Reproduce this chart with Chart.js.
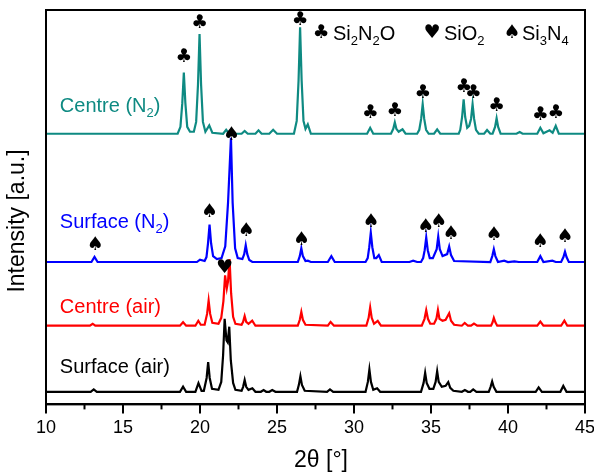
<!DOCTYPE html>
<html>
<head>
<meta charset="utf-8">
<script src="https://cdn.jsdelivr.net/npm/chart.js@4"></script>
<style>
  html, body { margin: 0; padding: 0; background: #fff; }
</style>
</head>
<body>
<canvas id="chart" width="594" height="472"></canvas>
<script>
// XRD patterns, [2theta, intensity above own baseline]
const surfaceAir = [
	[10,0],[12.9,0],[13.1,2.4],[13.3,0],[18.7,0],[18.9,5.2],[19.1,0],[19.7,0],[19.9,8.7],[20.1,1],
	[20.25,1],[20.43,14],[20.53,30],[20.63,14],[20.78,3],[21.2,2],[21.38,10],[21.5,37],[21.6,74],[21.72,52],
	[21.8,50],[21.9,66],[22.0,32],[22.15,9],[22.3,2],[22.7,1],[22.8,5],[22.9,12],[23.0,5],[23.15,2],
	[23.4,3.5],[23.6,0],[23.95,0],[24.13,1.7],[24.3,0],[24.5,0],[24.69,1.7],[24.9,0],[26.3,0],[26.42,7],
	[26.52,15.7],[26.62,7],[26.8,1],[28.25,0],[28.44,2.4],[28.65,0],[30.75,0],[30.9,10],[31.0,22.7],[31.1,10],
	[31.25,2],[31.5,3.5],[31.7,0],[34.35,0],[34.52,9],[34.62,19.2],[34.72,9],[34.9,3],[35.15,3],[35.3,10],
	[35.4,20.9],[35.5,10],[35.7,5],[35.95,6],[36.12,9.8],[36.25,4],[36.45,1],[37.0,0],[37.2,1.7],[37.4,0],
	[37.55,0],[37.74,2.4],[37.95,0],[38.75,0],[38.87,5],[38.97,10.5],[39.07,5],[39.25,0],[41.8,0],[41.99,4.5],
	[42.2,0],[43.4,0],[43.59,5.9],[43.8,0],[45,0],
];
const centreAir = [
	[10,0],[12.85,0],[13.03,2],[13.2,0],[18.7,0],[18.9,3.5],[19.1,0],[19.7,0],[19.89,5],[20.05,1],
	[20.3,1],[20.46,12],[20.56,25.5],[20.66,12],[20.8,3],[21.2,2],[21.38,8],[21.52,25],[21.63,51],[21.74,38],
	[21.82,45],[21.92,67.6],[22.02,33],[22.15,9],[22.3,2],[22.7,1],[22.8,4],[22.9,9.8],[23.0,4],[23.15,2],
	[23.39,5.2],[23.6,0],[26.35,0],[26.48,6],[26.58,14],[26.68,6],[26.85,1],[28.3,0],[28.48,3.8],[28.7,0],
	[30.8,0],[30.95,8],[31.05,18.5],[31.15,8],[31.3,2],[31.54,5],[31.75,0],[34.4,0],[34.58,7],[34.69,15.7],
	[34.8,7],[34.95,2],[35.2,2],[35.35,7],[35.45,16],[35.55,7],[35.75,5],[35.95,6],[36.18,12.6],[36.3,5],
	[36.5,1],[37.0,0],[37.19,2.8],[37.4,0],[37.6,0],[37.79,2.1],[38.0,0],[38.9,0],[39.0,3.5],[39.08,8],
	[39.18,3.5],[39.3,0],[41.9,0],[42.1,4.2],[42.3,0],[43.45,0],[43.66,5.2],[43.85,0],[45,0],
];
const surfaceN2 = [
	[10,0],[12.95,0],[13.15,5.2],[13.35,0],[19.8,0],[20.0,2.4],[20.3,1],[20.42,5],[20.52,19],[20.62,38],
	[20.72,19],[20.85,6],[21.1,3],[21.4,4],[21.64,16],[21.82,60],[22.01,126],[22.12,60],[22.28,14],[22.45,4],
	[22.75,3],[22.87,8],[22.97,17],[23.07,8],[23.2,2],[23.4,0],[26.35,0],[26.48,6],[26.58,14],[26.68,6],
	[26.85,1],[27.0,1.4],[27.2,0],[28.3,0],[28.53,6],[28.75,0],[30.75,0],[30.89,4],[30.99,15],[31.09,29.7],
	[31.19,15],[31.32,4],[31.45,4],[31.61,7],[31.8,0],[33.6,0],[33.84,1.4],[34.1,0],[34.35,0],[34.49,4],
	[34.59,12],[34.69,25],[34.79,12],[34.92,4],[35.12,4],[35.37,13],[35.47,25.8],[35.57,13],[35.75,6],[36.05,8],
	[36.18,15.7],[36.3,7],[36.5,1],[38.85,0],[38.98,6],[39.08,12.9],[39.18,6],[39.35,0],[39.75,1.4],[40.0,0],
	[40.42,0.7],[40.7,0],[41.9,0],[42.1,5.9],[42.3,0],[42.88,1.4],[43.1,0],[43.45,0],[43.6,5],[43.7,10.5],
	[43.8,5],[43.95,0],[45,0],
];
const centreN2 = [
	[10,0],[18.55,0],[18.73,7],[18.85,31],[18.95,62],[19.05,31],[19.17,7],[19.35,2],[19.6,2],[19.75,12],
	[19.87,50],[19.97,101],[20.07,50],[20.19,12],[20.35,2],[20.6,8.5],[20.8,1],[21.5,0],[21.7,4],[21.9,0],
	[22.7,0],[22.9,2.8],[23.1,0],[23.6,0],[23.8,3.5],[24.0,0],[24.5,0],[24.75,4],[25.0,0],[26.1,0],
	[26.28,13],[26.4,54],[26.5,108],[26.6,54],[26.72,13],[26.85,5],[27.0,9.5],[27.2,0],[30.85,0],[31.05,6],
	[31.25,0],[32.4,0],[32.55,5],[32.65,11.5],[32.75,5],[32.9,2],[33.15,4.5],[33.35,0],[34.1,0],[34.24,4],
	[34.36,15],[34.46,30],[34.56,15],[34.68,4],[34.85,0],[35.2,0],[35.4,4.5],[35.6,0],[36.8,0],[36.9,4],
	[37.02,17],[37.12,35],[37.22,17],[37.35,6],[37.48,8],[37.6,15],[37.7,30],[37.8,15],[37.92,4],[38.1,0],
	[38.45,0],[38.64,3.8],[38.85,0],[39.0,0],[39.16,7],[39.26,15.7],[39.36,7],[39.52,0],[40.55,0],[40.76,1.7],
	[40.95,0],[41.9,0],[42.1,6],[42.3,0.5],[42.7,3.5],[42.9,1],[43.1,8],[43.3,0],[45,0],
];

const seriesNames = ["Surface (air)", "Centre (air)", "Surface (N2)", "Centre (N2)"];
const seriesColors = ["#000000", "#ff0000", "#0000ff", "#0e8a82"];
const baselines = [12.8, 79.8, 144.4, 274.5];
const labelLevels = [32, 93, 179, 296.5];

const xTicks = [10, 15, 20, 25, 30, 35, 40, 45];
const xMinorTicks = [12.5, 17.5, 22.5, 27.5, 32.5, 37.5, 42.5];

// phase markers
const clubPeaks = [18.95, 19.97, 26.5, 31.05, 32.65, 34.46, 37.12, 37.75, 39.26, 42.1, 43.1];
const clubLevels = [352, 387, 390, 295.5, 298, 316, 321.7, 316, 303, 293.8, 295.5];
const spadePeaks = [13.2, 20.62, 22.05, 23.0, 26.6, 31.1, 34.66, 35.5, 36.3, 39.1, 42.1, 43.7];
const spadeLevels = [161.3, 195.4, 273, 175.3, 166.5, 184.6, 179.4, 184.6, 172.4, 171.7, 164.8, 170];
const heartPeaks = [21.6];
const heartLevels = [138.6];

const traces = [surfaceAir, centreAir, surfaceN2, centreN2];
const FONT = '"Liberation Sans", Arial, sans-serif';
const SYMFONT = '"DejaVu Sans", sans-serif';

// digits become subscripts
function drawRich(ctx, text, x, y, size, color) {
	ctx.save();
	ctx.fillStyle = color;
	ctx.textAlign = "left";
	ctx.textBaseline = "alphabetic";
	let cx = x;
	for (const ch of text) {
		const sub = /[0-9]/.test(ch);
		ctx.font = (sub ? Math.round(size * 0.65) : size) + "px " + FONT;
		ctx.fillText(ch, cx, sub ? y + size * 0.25 : y);
		cx += ctx.measureText(ch).width;
	}
	ctx.restore();
}

const decor = {
	id: "decor",
	afterDraw(chart) {
		const ctx = chart.ctx;
		const a = chart.chartArea;
		const xs = chart.scales.x;
		const ys = chart.scales.y;
		ctx.save();
		ctx.strokeStyle = "#000";
		ctx.lineWidth = 2;
		ctx.strokeRect(a.left, a.top, a.right - a.left, a.bottom - a.top);
		for (const v of xMinorTicks) {
			const px = xs.getPixelForValue(v);
			ctx.beginPath();
			ctx.moveTo(px, a.bottom);
			ctx.lineTo(px, a.bottom + 5);
			ctx.stroke();
		}

		// series labels
		seriesNames.forEach((name, i) => {
			drawRich(ctx, name, xs.getPixelForValue(10.9), ys.getPixelForValue(labelLevels[i]), 20, seriesColors[i]);
		});

		// markers
		ctx.fillStyle = "#000";
		ctx.font = "19px " + SYMFONT;
		ctx.textAlign = "center";
		ctx.textBaseline = "middle";
		const marks = [["\u2663", clubPeaks, clubLevels], ["\u2660", spadePeaks, spadeLevels], ["\u2665", heartPeaks, heartLevels]];
		for (const [sym, pos, lev] of marks) {
			pos.forEach((p, i) => ctx.fillText(sym, xs.getPixelForValue(p), ys.getPixelForValue(lev[i])));
		}

		// phase legend
		const ly = a.top + 30;
		ctx.fillText("\u2663", 321, ly - 7);
		drawRich(ctx, "Si2N2O", 333, ly, 20, "#000");
		ctx.fillText("\u2665", 432, ly - 7);
		drawRich(ctx, "SiO2", 444, ly, 20, "#000");
		ctx.fillText("\u2660", 512, ly - 7);
		drawRich(ctx, "Si3N4", 522, ly, 20, "#000");

		// axis titles
		ctx.font = "23px " + FONT;
		ctx.textAlign = "center";
		ctx.textBaseline = "middle";
		ctx.fillText("2\u03b8 [\u00b0]", 321, 461);
		ctx.translate(18, 221);
		ctx.rotate(-Math.PI / 2);
		ctx.fillText("Intensity [a.u.]", 0, 0);
		ctx.restore();
	},
};

new Chart(document.querySelector("#chart"), {
	type: "line",
	data: {
		datasets: traces.map((t, i) => ({
			label: seriesNames[i],
			data: t.map(([x, y]) => ({ x: x, y: y + baselines[i] })),
			borderColor: seriesColors[i],
			borderWidth: 2.2,
			pointRadius: 0,
			tension: 0,
			fill: false,
		})),
	},
	options: {
		responsive: false,
		animation: false,
		events: [],
		layout: { padding: { left: 46, right: 9, top: 10, bottom: 29 } },
		plugins: { legend: { display: false }, tooltip: { enabled: false } },
		scales: {
			x: {
				type: "linear",
				min: 10,
				max: 45,
				afterBuildTicks: (scale) => { scale.ticks = xTicks.map((v) => ({ value: v })); },
				afterFit: (scale) => { scale.paddingRight = 0; scale.paddingLeft = 0; },
				ticks: { color: "#000", font: { size: 18, family: FONT }, padding: 4, maxRotation: 0 },
				grid: { drawOnChartArea: false, drawTicks: true, tickLength: 9, color: "#000", lineWidth: 2 },
				border: { display: true, color: "#000", width: 2 },
			},
			y: { display: false, min: 0, max: 400 },
		},
	},
	plugins: [decor],
});
</script>
</body>
</html>
